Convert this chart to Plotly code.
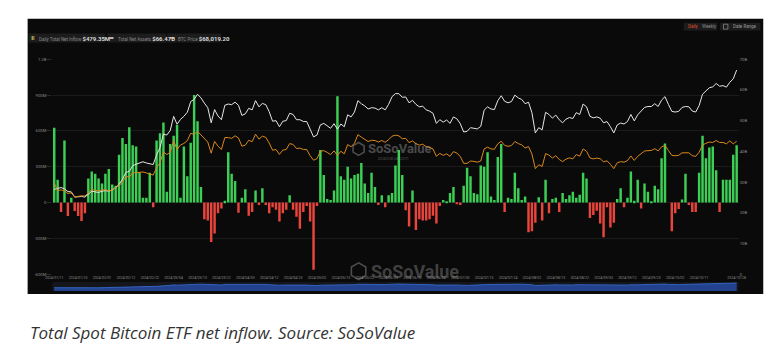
import math
import plotly.graph_objects as go
import pandas as pd

# ---------------- data ----------------
holidays = ["2024-01-15", "2024-02-19", "2024-03-29", "2024-05-27",
            "2024-06-19", "2024-07-04", "2024-09-02"]
dates = [d.strftime("%Y/%m/%d") for d in pd.bdate_range("2024-01-11", "2024-10-28")
         if d.strftime("%Y-%m-%d") not in holidays]

# Daily total net inflow (US$ M)
flows = [
    # Jan
    625, 190, -80, 520, -113, 39, -72, -113, -155, -90, 200, 260, 240, 200,
    # Feb
    160, 240, 280, 150, 140, 400, 540, 490, 630, 480, 470, 250, 40, 40, 250, -40, 520, 580, 670, 90,
    # Mar
    490, 560, 650, 40, 470, 220, 500, 900, 680, 130, -140, -150, -330, -260, -90, -50, 15, 420, 240, 180,
    # Apr
    -85, 40, 110, -110, -80, 100, -20, 120, -20, -90, -40, -60, -160, -90, -60, 60, -60, -120, -220, -80, -30, -160,
    # May
    -563, -30, 440, 230, 30, 20, 100, 890, 220, 190, 300, 200, 230, 240, 330, 160, 80, 250, 130, -20, 60, -40,
    # Jun
    60, 80, 310, 440, 230, -65, -200, 100, -230, -140, -150, -150, -140, -110, -175, -30, 20, 10, 80,
    # Jul
    130, -10, -20, 140, 290, 220, 80, 70, 310, 300, 420, 50, 20, 380, 490, -80, 40, 30, 250, 120, 20, 50,
    # Aug
    -250, -240, -170, 45, -150, 190, -90, 30, 40, -80, 80, 30, 60, 90, 40, 65, 250, 200, -130, -105, -70, -175,
    # Sep
    -290, -40, -210, -170, 30, 120, -40, 40, 260, 15, 190, -50, 160, 90, 5, 140, 110, 370, 495, 0,
    # Oct
    -240, -90, -55, 25, 240, -20, -80, -80, 250, 560, 370, 460, 470, 270, -80, 190, 190, 190, 400, 479,
]

# Total net assets (US$ B)
assets = [
    27.6, 28.0, 28.2, 27.8, 26.9, 26.8, 25.1, 25.2, 25.3, 25.1, 26.0, 27.0, 26.8, 26.6,
    27.0, 27.2, 27.0, 27.4, 28.2, 29.2, 30.9, 33.1, 33.5, 35.3, 35.8, 36.3, 36.6, 36.2, 36.0, 35.7, 38.8, 41.2, 45.6, 45.3,
    46.8, 51.4, 48.8, 50.4, 51.4, 52.7, 56.2, 56.9, 58.6, 57.4, 55.7, 54.2, 49.3, 53.6, 51.5, 50.3, 55.0, 55.4, 55.2, 56.0,
    55.0, 51.7, 52.2, 54.0, 53.5, 56.5, 54.5, 55.6, 55.2, 52.9, 49.8, 50.0, 48.0, 49.8, 50.0, 52.4, 52.0, 50.3, 50.3, 49.7, 49.7, 47.0,
    44.7, 45.3, 48.6, 49.1, 48.4, 47.5, 49.0, 47.2, 48.9, 48.0, 51.9, 51.2, 52.8, 56.5, 55.5, 54.8, 53.8, 54.2, 54.1, 53.5, 54.2, 53.5,
    55.3, 57.8, 58.8, 58.8, 57.6, 57.7, 55.8, 56.6, 55.3, 54.5, 54.7, 53.5, 53.1, 52.4, 49.1, 50.3, 49.5, 50.2, 49.1,
    51.2, 50.6, 49.0, 46.3, 46.5, 47.7, 47.6, 47.3, 48.1, 53.4, 54.5, 53.8, 53.6, 56.5, 58.1, 56.3, 55.8, 56.2, 58.3, 57.4, 56.9, 55.5,
    56.0, 52.6, 46.0, 47.7, 47.0, 52.7, 52.0, 50.8, 51.8, 50.3, 49.3, 50.5, 51.0, 50.7, 52.6, 52.0, 55.4, 54.5, 51.4, 50.9, 51.2, 50.8,
    49.3, 49.7, 48.0, 46.0, 48.6, 49.2, 48.9, 49.7, 52.0, 49.9, 51.9, 53.1, 54.3, 54.6, 54.6, 55.5, 54.6, 56.7, 57.8, 55.3,
    53.0, 52.8, 53.0, 54.3, 54.6, 54.5, 53.1, 52.8, 54.9, 58.6, 59.8, 60.7, 61.0, 62.1, 61.2, 61.4, 60.9, 62.5, 63.6, 66.47,
]

# BTC price (US$ thousand)
btc_k = [
    46.6, 42.8, 43.1, 42.7, 41.3, 41.6, 39.5, 39.9, 40.1, 40.0, 41.8, 43.3, 42.9, 42.6,
    43.1, 43.2, 42.6, 43.1, 44.3, 45.3, 47.1, 50.0, 49.7, 51.8, 51.9, 52.1, 52.3, 51.8, 51.3, 50.7, 54.5, 57.0, 62.5, 61.2,
    62.4, 68.3, 63.8, 66.1, 66.9, 68.3, 72.1, 71.5, 73.1, 71.4, 69.4, 67.6, 61.9, 67.9, 65.5, 63.8, 69.9, 69.9, 69.5, 70.8,
    69.7, 65.5, 66.0, 68.5, 67.8, 71.6, 69.1, 70.6, 70.0, 67.1, 63.4, 63.8, 61.3, 63.5, 63.8, 66.8, 66.4, 64.3, 64.5, 63.8, 63.8, 60.6,
    58.3, 59.1, 62.9, 63.2, 62.3, 61.2, 63.1, 60.8, 62.9, 61.6, 66.3, 65.2, 67.0, 71.4, 70.1, 69.1, 67.9, 68.5, 68.4, 67.6, 68.4, 67.5,
    68.8, 70.6, 71.1, 70.8, 69.3, 69.5, 67.3, 68.2, 66.8, 66.0, 66.5, 65.2, 64.9, 64.1, 60.3, 61.8, 60.8, 61.6, 60.3,
    62.7, 62.0, 60.2, 56.7, 56.7, 57.9, 57.7, 57.3, 57.9, 64.1, 65.0, 64.1, 63.9, 66.7, 68.0, 65.9, 65.4, 65.8, 67.9, 66.8, 66.2, 64.6,
    65.3, 61.5, 54.0, 56.0, 55.1, 61.7, 60.9, 59.4, 60.6, 58.7, 57.6, 58.9, 59.5, 59.0, 61.2, 60.4, 64.1, 62.9, 59.5, 59.0, 59.4, 59.1,
    57.5, 58.0, 56.2, 54.0, 57.0, 57.6, 57.3, 58.1, 60.5, 58.2, 60.3, 61.8, 63.0, 63.2, 63.3, 64.2, 63.1, 65.2, 65.8, 63.3,
    60.8, 60.6, 60.8, 62.1, 62.2, 62.1, 60.6, 60.3, 62.4, 66.0, 67.0, 67.6, 67.4, 68.4, 67.4, 67.4, 66.7, 68.2, 66.7, 68.02,
]

left_ticks = [-600, -300, 0, 300, 600, 900, 1200]
left_labels = ["-600M", "-300M", "0", "300M", "600M", "900M", "1.2B"]
right_ticks = [0, 10, 20, 30, 40, 50, 60, 70]
right_labels = ["0", "10B", "20B", "30B", "40B", "50B", "60B", "70B"]

assert len(dates) == len(flows) == len(assets) == len(btc_k), (len(dates), len(flows), len(assets), len(btc_k))

# ---------------- geometry helpers ----------------
W, H = 784, 358
def px(x): return x / W
def py(y): return 1 - y / H

GREEN = "#3dcf55"
RED = "#e8453c"
ORANGE = "#d9891c"
colors = [GREEN if v >= 0 else RED for v in flows]

tick_idx = list(range(0, len(dates) - 8, 7)) + [len(dates) - 1]
tickvals = [dates[i] for i in tick_idx]

fig = go.Figure()
fig.add_trace(go.Bar(x=dates, y=flows, marker_color=colors, marker_line_width=0,
                     xaxis="x", yaxis="y", name="Daily Total Net Inflow"))
fig.add_trace(go.Scatter(x=dates, y=assets, mode="lines", line=dict(color="#e6e6e6", width=1),
                         xaxis="x", yaxis="y2", name="Total Net Assets"))
fig.add_trace(go.Scatter(x=dates, y=btc_k, mode="lines", line=dict(color=ORANGE, width=1),
                         xaxis="x", yaxis="y3", name="BTC Price"))
fig.add_trace(go.Scatter(x=dates, y=assets, mode="lines", fill="tozeroy",
                         line=dict(color="#3b6fd6", width=0.8), fillcolor="rgba(38,78,170,0.8)",
                         xaxis="x2", yaxis="y4", name="nav"))

xr = [-0.6, len(dates) - 0.4]
fig.update_layout(
    width=W, height=H, margin=dict(l=0, r=0, t=0, b=0),
    paper_bgcolor="white", plot_bgcolor="rgba(0,0,0,0)",
    showlegend=False, bargap=0.28,
    font=dict(family="Roboto, Arial", color="#8a8a8a", size=5),
    xaxis=dict(domain=[px(46), px(745)], type="category", range=xr, anchor="y",
               tickmode="array", tickvals=tickvals, ticktext=tickvals,
               tickangle=0, tickfont=dict(size=3.5, color="#8c8c8c"),
               showgrid=False, zeroline=False, showline=False, ticks=""),
    yaxis=dict(domain=[py(275), py(57)], range=[-600, 1200], tickvals=left_ticks, ticktext=left_labels,
               tickfont=dict(size=4.2, color="#8c8c8c"), gridcolor="#1b1b1b", gridwidth=1,
               zeroline=False, showline=False, ticks="outside", ticklen=4, tickcolor="#2a2a2a"),
    yaxis2=dict(overlaying="y", side="right", anchor="x", range=[0, 70], tickvals=right_ticks,
                ticktext=right_labels, tickfont=dict(size=4.2, color="#8c8c8c"), showgrid=False,
                zeroline=False, showline=False),
    yaxis3=dict(overlaying="y", range=[0, 110], visible=False),
    xaxis2=dict(domain=[px(46), px(745)], type="category", range=xr, anchor="y4", visible=False),
    yaxis4=dict(domain=[py(292), py(283)], range=[0, 75], visible=False),
)

shapes = [
    dict(type="rect", xref="paper", yref="paper", x0=px(21), x1=px(770), y0=py(295), y1=py(16),
         fillcolor="#0a0a0a", line=dict(width=0), layer="below"),
    dict(type="rect", xref="paper", yref="paper", x0=px(46), x1=px(745), y0=py(292), y1=py(283),
         fillcolor="#14161c", line=dict(width=0), layer="below"),
]
ann = []

# legend boxes
legend_items = [
    (22, 100, "Daily Total Net Inflow", "$479.35M", None),
    (102, 162, "Total Net Assets", "$66.47B", "#e6e6e6"),
    (163, 218, "BTC Price", "$68,019.20", ORANGE),
]
for x0, x1, lab, val, col in legend_items:
    shapes.append(dict(type="rect", xref="paper", yref="paper", x0=px(x0), x1=px(x1), y0=py(40), y1=py(31),
                       fillcolor="#1c1c1c", line=dict(width=0)))
    if col is None:
        shapes.append(dict(type="rect", xref="paper", yref="paper", x0=px(25), x1=px(26.5), y0=py(37.5), y1=py(33.5),
                           fillcolor=GREEN, line=dict(width=0)))
        shapes.append(dict(type="rect", xref="paper", yref="paper", x0=px(26.5), x1=px(28), y0=py(37.5), y1=py(33.5),
                           fillcolor=RED, line=dict(width=0)))
    else:
        shapes.append(dict(type="line", xref="paper", yref="paper", x0=px(x0 + 2.5), x1=px(x0 + 6.5),
                           y0=py(35.5), y1=py(35.5), line=dict(color=col, width=1.5)))
    ann.append(dict(xref="paper", yref="paper", x=px(x0 + 9), y=py(35.5), xanchor="left", yanchor="middle",
                    showarrow=False,
                    text=f"{lab} <span style='color:#d8d8d8;font-size:6px'><b>{val}</b></span>",
                    font=dict(size=4.5, color="#8a8a8a")))

# top-right buttons
shapes.append(dict(type="rect", xref="paper", yref="paper", x0=px(689), x1=px(723), y0=py(28), y1=py(20),
                   fillcolor="#1c1c1c", line=dict(width=0)))
shapes.append(dict(type="rect", xref="paper", yref="paper", x0=px(726), x1=px(767), y0=py(28), y1=py(20),
                   fillcolor="#1c1c1c", line=dict(width=0)))
shapes.append(dict(type="rect", xref="paper", yref="paper", x0=px(729.5), x1=px(734), y0=py(26.5), y1=py(21.5),
                   fillcolor="rgba(0,0,0,0)", line=dict(color="#888", width=0.8)))
ann.append(dict(xref="paper", yref="paper", x=px(691), y=py(24), xanchor="left", yanchor="middle",
                showarrow=False, text="Daily", font=dict(size=4.5, color="#e0502c")))
ann.append(dict(xref="paper", yref="paper", x=px(706), y=py(24), xanchor="left", yanchor="middle",
                showarrow=False, text="Weekly", font=dict(size=4.5, color="#8a8a8a")))
ann.append(dict(xref="paper", yref="paper", x=px(737), y=py(24), xanchor="left", yanchor="middle",
                showarrow=False, text="Date Range", font=dict(size=4.5, color="#9a9a9a")))

# watermarks
def logo(cx, cy, r):
    pts = [(cx + r * math.cos(math.radians(30 + 60 * k)), cy + r * math.sin(math.radians(30 + 60 * k))) for k in range(6)]
    path = "M " + " L ".join(f"{px(a):.5f},{py(b):.5f}" for a, b in pts) + " Z"
    return dict(type="path", xref="paper", yref="paper", path=path, fillcolor="rgba(0,0,0,0)",
                line=dict(color="rgba(200,200,200,0.35)", width=1.6))
shapes.append(logo(358, 148, 6.5))
shapes.append(logo(358, 272, 8.5))
ann.append(dict(xref="paper", yref="paper", x=px(366), y=py(148), xanchor="left", yanchor="middle",
                showarrow=False, text="<b>SoSoValue</b>", font=dict(size=13, color="rgba(200,200,200,0.35)")))
ann.append(dict(xref="paper", yref="paper", x=px(376), y=py(158), xanchor="left", yanchor="middle",
                showarrow=False, text="sosovalue.com", font=dict(size=4.5, color="rgba(200,200,200,0.3)")))
ann.append(dict(xref="paper", yref="paper", x=px(369), y=py(272), xanchor="left", yanchor="middle",
                showarrow=False, text="<b>SoSoValue</b>", font=dict(size=18, color="rgba(200,200,200,0.3)")))

# caption
ann.append(dict(xref="paper", yref="paper", x=px(21), y=py(334), xanchor="left", yanchor="middle",
                showarrow=False, text="<i>Total Spot Bitcoin ETF net inflow. Source: SoSoValue</i>",
                font=dict(size=17, color="#333333", family="Open Sans")))

fig.update_layout(shapes=shapes, annotations=ann)
fig.write_html("out.html", config={"displayModeBar": False},
               post_script="document.body.style.margin='0';document.body.style.overflow='hidden';")
